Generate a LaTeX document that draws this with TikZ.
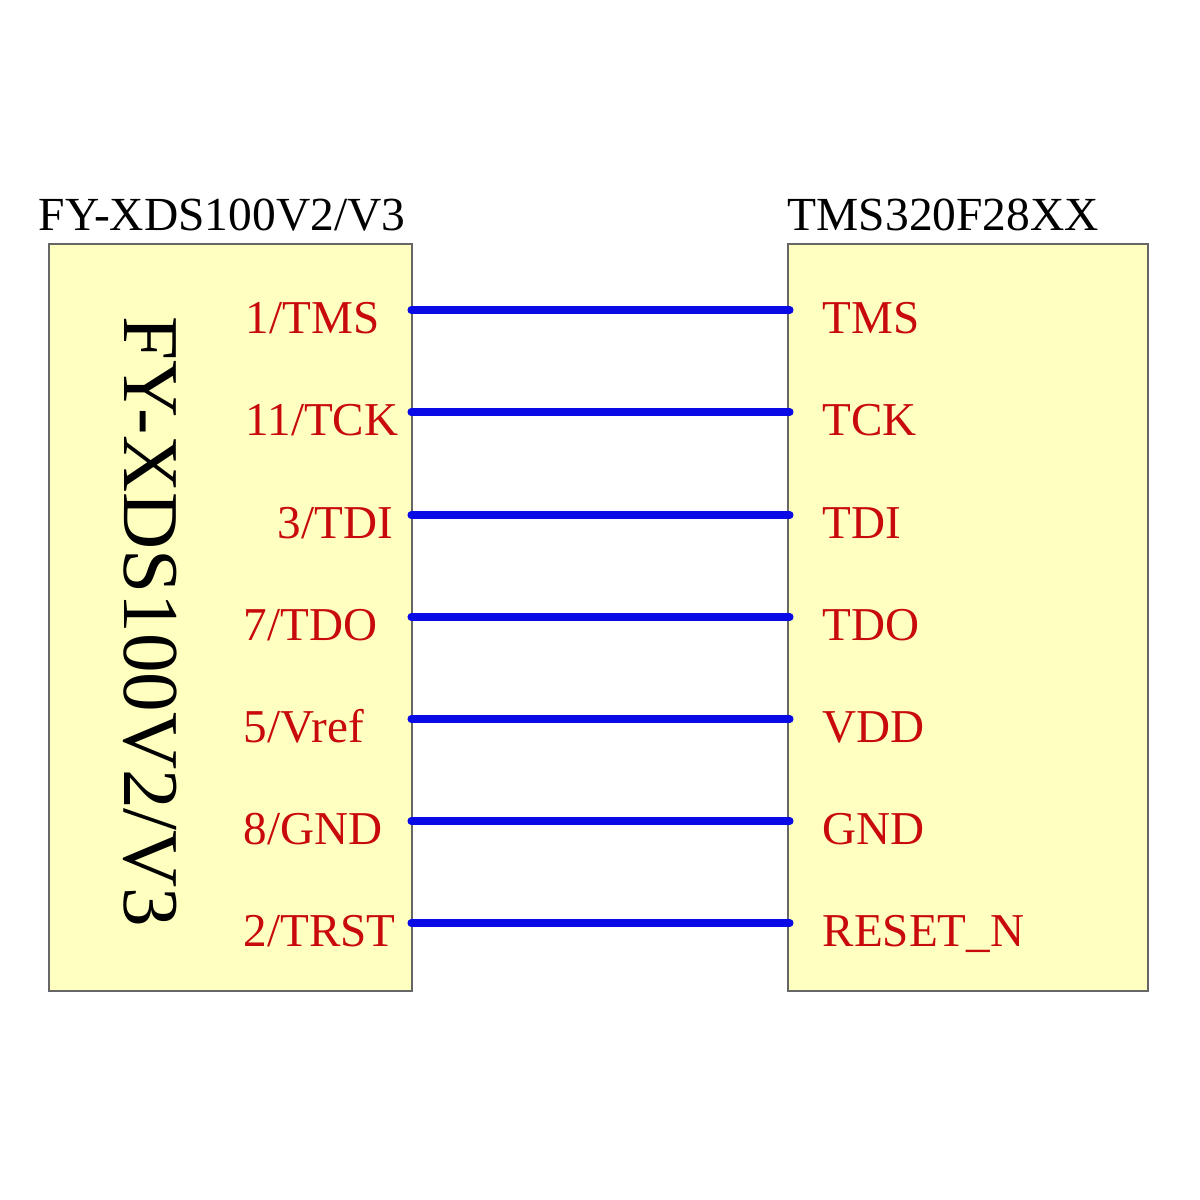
\documentclass[tikz,border=0pt]{standalone}
\usepackage{fontspec}
\setmainfont{Liberation Serif}
\definecolor{boxy}{RGB}{255,255,192}
\definecolor{lbl}{RGB}{200,10,10}
\definecolor{wire}{RGB}{10,10,230}
\begin{document}
\begin{tikzpicture}[x=0.01cm,y=-0.01cm,
  box/.style={draw=black!60,line width=0.5pt,fill=boxy},
  pin/.style={text=lbl,font=\fontsize{13.4}{13}\selectfont,anchor=base west,inner sep=0},
  ttl/.style={font=\fontsize{13.5}{13}\selectfont,anchor=base west,inner sep=0},
  conn/.style={draw=wire,line width=2pt,line cap=round}]
\useasboundingbox (0,0) rectangle (1200,1200);
\node[box,minimum width=3.63cm,minimum height=7.47cm,anchor=north west,inner sep=0] (L) at (48,243) {};
\node[box,minimum width=3.6cm,minimum height=7.47cm,anchor=north west,inner sep=0] (R) at (787,243) {};
\node[ttl] (tl) at (38,230) {FY-XDS100V2/V3};
\node[ttl] (tr) at (787,230) {TMS320F28XX};
\node[rotate=-90,font=\fontsize{22.5}{22}\selectfont,inner sep=0] (v) at (150,622) {FY-XDS100V2/V3};
\foreach \i/\y/\lx/\la/\rl in {1/310/245/1\slash TMS/TMS,2/412/245/11\slash TCK/TCK,3/515/277/3\slash TDI/TDI,4/617/243/7\slash TDO/TDO,5/719/243/5\slash Vref/VDD,6/821/243/8\slash GND/GND,7/923/243/2\slash TRST/RESET\_N}{
  \coordinate (a\i) at (411,\y);
  \coordinate (b\i) at (790,\y);
  \draw[conn] (a\i) -- (b\i);
  \node[pin] (pl\i) at (\lx,\y+23) {\la};
  \node[pin] (pr\i) at (822,\y+23) {\rl};
}
\end{tikzpicture}
\end{document}
